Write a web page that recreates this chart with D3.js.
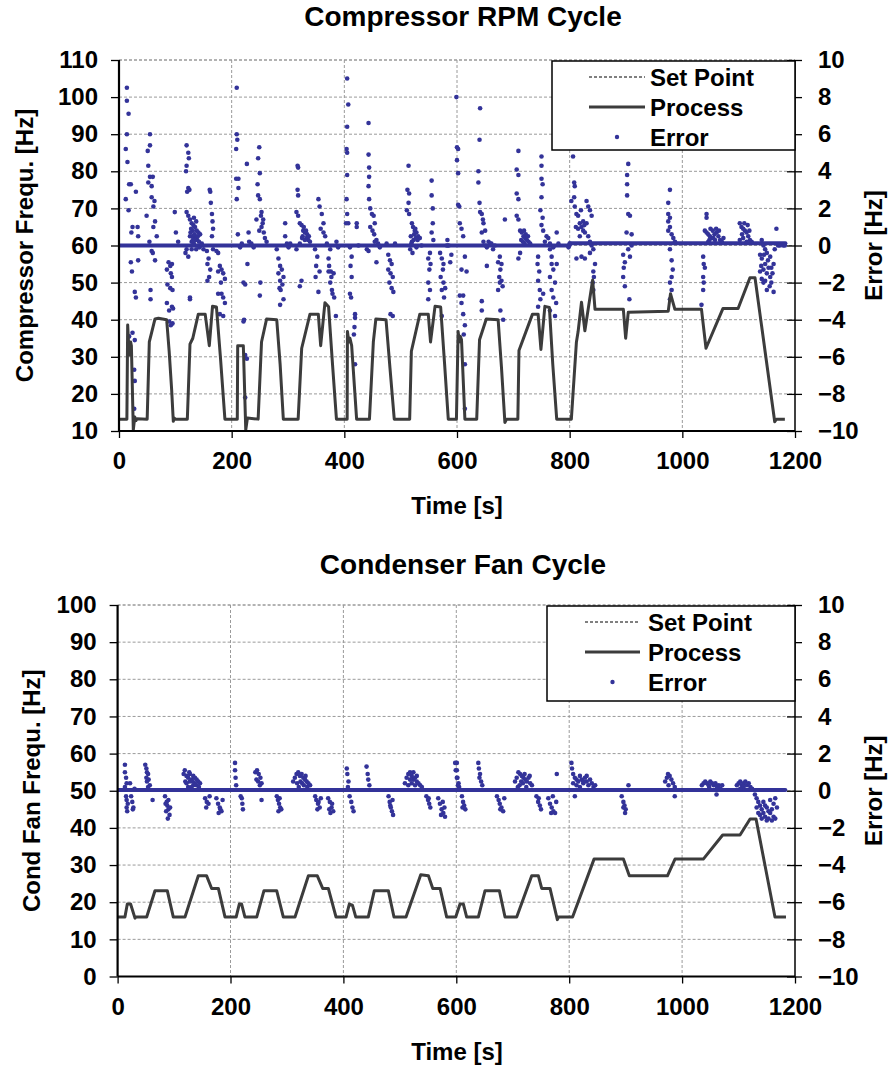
<!DOCTYPE html>
<html><head><meta charset="utf-8">
<script src="https://cdn.jsdelivr.net/npm/d3@7"></script>
<style>
html,body{margin:0;padding:0;background:#fff;}
svg text{font-family:"Liberation Sans",Arial,Helvetica,sans-serif;font-weight:bold;fill:#000;}
</style></head>
<body>
<svg id="chart" width="890" height="1067"></svg>
<script>
// ---------------- DATA ----------------
const xTicks = [0,200,400,600,800,1000,1200];
const compYTicks = [10,20,30,40,50,60,70,80,90,100,110];
const fanYTicks = [0,10,20,30,40,50,60,70,80,90,100];
const errTicks = [-10,-8,-6,-4,-2,0,2,4,6,8,10];
const legendLabels = ["Set Point","Process","Error"];

// Compressor process [time s, Hz]
const compProcess = [[0,13.2],[14,13.2],[15.4,38.6],[18,30.5],[20.7,34],[22,33],[25.4,10.3],[28,13.8],[30,12.8],[32,13.3],[50,13.2],[53.8,34],[58,36.6],[63.9,40.2],[70,40.4],[84.6,40],[89,31.6],[93.5,21],[96.4,12.6],[98,13.5],[100,13.2],[121.3,13.2],[126,33.4],[131,35],[140.8,41.5],[153,41.5],[160.3,33],[166,43.6],[173,43.4],[180,30],[188,13.2],[210,13.2],[210.7,33],[220.7,33],[225,10.3],[228,13.5],[247,13.2],[253,34],[262,40.2],[280,40],[286,28],[291.7,13.2],[318,13.2],[324.3,32.3],[339,41.5],[353.8,41.5],[358,33],[365.6,44.6],[372,43.5],[379,28],[386,13.2],[405,13.2],[405.5,36.8],[408,34],[410,35],[413,33],[421.8,13.2],[444.6,13.2],[451.5,34],[456,40.2],[474,40],[481,27],[488.6,13.2],[516,13.2],[519,31.5],[534,41.5],[549,41.5],[553,34],[561,43.6],[571,43.4],[578,28],[584.5,13.2],[599,13.2],[602,36.8],[604,34],[606,35.5],[608,34.6],[614,13.2],[635,13.2],[640,34.6],[652,40.2],[673,40],[679,27],[685,12.3],[688,13.2],[708,13.2],[710,31.7],[734,41.5],[744,41.5],[749,32],[756,43.6],[764,43.3],[770,28],[777,13.2],[803,13.2],[812,34],[815,36.8],[821,44.7],[827,37],[834,44],[840.8,50.7],[845,42.8],[895.3,42.8],[899.4,35],[904,42],[975,42.3],[979,47],[986.8,42.8],[1034,42.8],[1042,32.3],[1072,43],[1099,43],[1120,51.3],[1129,51.3],[1164,12.5],[1167,13.2],[1182,13.2]];
const compSetPoint = compProcess;

// Compressor error points [time s, error Hz]
const compError = [
[14,8.5],[14,7.8],[17,7.1],[14,6.0],[12,5.2],[15,4.5],[21,3.3],[18,3.3],[12,2.5],[17,1.9],[22,0.7],[24,1.0],[21,-0.9],[23,-1.4],[28,-2.5],[30,-2.8],[18,-4.9],[24,-4.7],[28,-5.1],[27,-6.7],[28,-7.3],[27,-8.8],[30,2.9],[33,1.0],[34,0.5],[34,-0.8],
[55,6.0],[55,5.4],[51,5.1],[52,4.3],[52,3.4],[55,3.7],[60,3.7],[58,3.2],[58,2.6],[61,2.1],[49,1.6],[63,2.4],[64,1.3],[61,1.0],[67,0.5],[54,0.2],[58,-0.3],[64,-0.8],[60,-0.4],[56,-2.4],[56,-2.9],
[88,-0.9],[91,-1.1],[94,-1.0],[85,-1.3],[92,-1.5],[94,-1.7],[86,-2.1],[91,-2.3],[95,-2.4],[85,-3.1],[94,-3.3],[89,-3.5],[96,-3.4],[92,-4.3],[89,-4.1],[95,-4.2],[99,1.8],[101,0.7],[105,0.2],
[120,5.4],[123,5.0],[124,4.7],[120,4.3],[119,4.0],[123,3.1],[125,3.0],[121,2.9],[120,1.8],[123,1.6],[126,1.4],[129,1.2],[132,1.1],[135,1.0],[138,0.8],[131,0.8],[141,0.7],[144,0.6],[126,0.5],[135,0.4],[139,0.3],[129,0.2],[147,0.1],[133,0.1],[143,-0.1],[120,-0.2],[129,-0.2],[137,-0.2],[150,-0.2],[126,-2.8],[126,-2.9],[118,-0.4],[123,-0.6],[128,0.9],[130,0.5],[134,0.6],[136,0.3],[140,0.5],[142,0.2],[137,1.3],[133,1.5],[131,0.3],[127,0.7],
[162,2.9],[163,2.3],[165,1.7],[166,1.3],[167,0.9],[165,0.5],[161,3.0],[156,-0.3],[159,-0.7],[157,-1.0],[162,-1.3],[160,-1.7],[157,-1.9],[167,-0.2],[173,-0.3],[176,-0.4],[179,-1.1],[182,-1.3],[185,-1.5],[188,-1.8],[176,-1.4],[181,-2.0],[176,-2.6],[182,-2.6],[185,-2.8],[179,-3.7],[185,-3.8],[188,-3.1],
[209,8.5],[209,6.0],[210,5.7],[208,5.2],[212,3.6],[212,3.1],[209,2.5],[208,3.6],[211,0.6],[215,-0.1],[218,0.1],[221,-2.0],[224,-2.1],[222,-4.0],[221,-4.1],[224,-5.9],[227,-6.1],[224,-8.2],[228,-1.0],[227,4.4],
[249,5.3],[247,4.7],[250,3.9],[246,3.3],[247,2.7],[250,2.5],[253,1.8],[256,1.4],[253,1.0],[249,0.8],[257,0.7],[259,0.4],[262,0.2],[255,1.2],[244,1.4],[252,1.6],[230,0.7],[231,0.2],[235,0.1],[239,-0.1],[251,-2.0],[250,-2.7],
[280,-0.2],[283,-0.7],[286,-1.1],[289,-1.3],[283,-1.5],[292,-1.7],[286,-1.9],[290,-2.1],[285,-2.3],[287,-2.4],[292,-2.9],[286,-3.2],[295,0.5],[295,1.2],[298,0.1],[301,-0.1],[304,0.1],
[318,4.2],[317,4.3],[317,3.0],[318,2.7],[315,1.8],[318,1.6],[321,1.2],[324,1.1],[327,0.8],[330,0.7],[326,0.5],[333,0.4],[336,0.3],[339,0.2],[321,0.1],[332,0.8],[324,-1.9],[321,-2.2],[315,-0.2],[328,1.0],[330,0.3],[334,0.6],[325,0.4],[337,0.5],
[354,2.5],[356,2.1],[360,1.7],[363,1.2],[358,0.9],[363,0.7],[366,0.5],[352,-0.6],[350,-1.1],[356,-1.4],[349,-1.7],[354,-2.5],[375,-0.2],[372,-0.7],[373,-1.1],[376,-1.4],[377,-1.7],[381,-1.5],[375,-2.0],[378,-2.4],[379,-2.6],[382,-2.8],[386,0.2],[389,-0.1],[385,-3.8],[372,-1.4],[369,0.1],[348,-0.2],
[405,9.0],[407,7.6],[405,6.4],[404,5.2],[405,5.0],[405,3.8],[404,2.5],[405,1.7],[407,1.2],[422,1.2],[403,1.2],[410,-0.1],[413,-0.6],[411,-1.1],[413,-1.7],[410,-2.6],[412,-2.8],[419,-3.7],[419,-3.9],[418,-4.4],[417,-4.8],[419,-6.4],[422,1.0],[425,0.0],
[443,6.6],[443,4.9],[444,4.2],[444,3.7],[443,3.2],[444,2.5],[446,2.0],[449,1.7],[452,1.6],[454,1.2],[450,0.8],[453,0.6],[457,0.3],[446,1.0],[440,-0.2],[443,-0.3],[454,0.2],[457,-0.9],[460,0.1],[463,-0.1],
[475,0.1],[478,-0.5],[481,-0.8],[484,-1.0],[478,-1.3],[482,-1.5],[486,-1.7],[480,-2.0],[484,-2.3],[487,-2.5],[482,-3.7],[486,-3.8],[490,0.1],
[514,4.3],[512,3.0],[515,2.8],[514,2.3],[511,1.9],[515,1.7],[520,1.2],[522,1.0],[525,0.8],[528,0.7],[524,0.6],[531,0.5],[534,0.4],[520,0.2],[517,-0.2],[521,-0.4],[528,-0.1],[537,0.0],[519,0.1],[523,0.3],[526,0.9],[530,0.3],[518,0.5],[527,0.4],
[555,3.5],[555,2.7],[557,2.0],[557,1.2],[555,0.7],[558,0.3],[552,-0.4],[549,-0.7],[553,-1.0],[551,-1.3],[549,-2.0],[552,-2.4],[549,-2.9],[570,-0.4],[573,-0.7],[576,-1.0],[575,-1.3],[571,-1.7],[576,-2.0],[579,-2.3],[573,-2.4],[577,-2.8],[573,-3.8],[582,0.0],[583,0.3],[585,0.0],
[599,8.0],[600,5.3],[602,5.2],[600,4.6],[602,3.9],[602,2.2],[604,2.1],[605,1.2],[608,0.9],[611,0.5],[611,-2.7],[605,-2.7],[608,-3.1],[611,-3.7],[614,-4.3],[612,-4.8],[614,-6.4],[614,-8.8],[608,-1.3],[614,-0.6],[590,-0.5],[588,-0.9],[617,-1.4],
[641,7.4],[640,5.7],[638,4.0],[638,3.4],[640,2.3],[641,1.8],[644,1.7],[646,1.4],[647,1.2],[650,0.8],[644,0.7],[647,0.2],[651,0.0],[656,0.2],[659,0.1],[653,-0.1],[664,-0.2],[667,0.0],[661,0.1],[644,-3.0],[644,-3.5],
[653,-1.1],[676,-0.6],[679,-1.0],[673,-0.9],[677,-1.3],[675,-1.7],[679,-1.9],[676,-2.0],[681,-2.2],[673,-2.4],[677,-3.5],[682,-4.0],[685,1.4],
[709,5.1],[706,4.1],[709,3.8],[706,2.8],[709,2.5],[706,1.6],[709,1.4],[712,0.8],[715,0.7],[718,0.5],[721,0.4],[724,0.3],[727,0.2],[730,0.1],[717,0.2],[722,0.6],[712,-0.4],[709,-0.7],[714,0.3],[719,0.8],[726,0.5],[720,0.1],
[750,4.8],[750,4.3],[750,3.6],[752,3.3],[750,2.6],[748,1.9],[752,1.5],[750,1.1],[753,0.8],[759,0.5],[756,0.2],[762,0.4],[765,0.1],[771,-0.1],[777,0.7],[780,0.1],
[744,-0.6],[743,-1.0],[746,-1.4],[744,-1.9],[747,-2.4],[748,-2.9],[744,-3.3],[753,-2.6],
[765,-0.2],[768,-1.0],[771,-1.3],[765,-1.7],[774,-2.0],[768,-2.4],[771,-2.8],[776,-3.1],[765,-3.5],[774,-3.8],[768,-0.6],[777,-1.0],
[798,-0.1],[800,0.1],[806,4.8],[808,3.4],[809,3.2],[808,2.6],[803,2.4],[809,2.1],[812,1.7],[815,1.6],[818,1.2],[821,1.0],[824,0.8],[827,0.7],[830,2.4],[833,2.1],[836,1.9],[839,1.6],[830,1.2],[833,0.5],[836,0.2],[839,0.0],[812,-0.7],[821,-0.6],[827,-0.7],[836,-0.4],[842,-0.2],[845,-1.0],[842,-1.4],[843,-1.7],[841,-2.0],[842,-2.4],[815,0.9],[818,0.5],[824,1.3],[820,1.9],[826,1.1],[811,1.0],
[904,4.4],[902,3.8],[902,3.3],[902,2.7],[904,1.7],[907,1.6],[901,0.7],[910,0.6],[904,-0.2],[895,-0.5],[898,-0.9],[896,-1.2],[895,-1.7],[898,-2.2],[906,-2.9],[907,-0.6],[910,0.0],
[978,3.0],[975,2.3],[975,1.7],[978,1.5],[975,1.3],[978,1.0],[975,0.8],[981,0.6],[984,0.4],[987,0.2],[978,-0.2],[981,-0.8],[983,-1.3],[981,-1.7],[978,-2.0],[981,-2.4],[978,-2.9],
[1043,1.7],[1043,1.5],[1040,0.8],[1043,0.7],[1046,0.6],[1049,0.5],[1052,0.4],[1055,0.4],[1058,0.3],[1061,0.7],[1064,0.5],[1067,0.3],[1070,0.2],[1073,0.4],[1046,0.2],[1037,-0.6],[1038,-1.0],[1040,-1.2],[1037,-1.7],[1038,-2.0],[1037,-2.4],[1034,-3.2],[1050,0.9],[1054,0.8],[1060,0.9],[1065,0.8],[1048,0.3],[1057,0.6],
[1102,1.2],[1105,1.0],[1108,0.9],[1111,0.8],[1114,0.7],[1117,0.5],[1108,0.4],[1102,0.3],[1114,0.2],[1120,0.3],[1123,0.2],[1110,1.2],[1116,1.1],[1106,0.6],[1119,0.8],
[1141,0.3],[1144,0.0],[1147,-0.2],[1150,-0.4],[1156,-0.6],[1141,-0.7],[1147,-1.0],[1153,-1.2],[1158,-1.2],[1144,-1.3],[1138,-1.4],[1150,-1.5],[1156,-1.7],[1141,-1.8],[1147,-1.9],[1158,-2.0],[1144,-2.0],[1150,-2.4],[1162,-2.5],[1138,-0.5],[1164,-0.2],[1167,0.9],[1170,0.0],[1173,0.0],[1179,0.0],[1182,0.0],[1152,-0.8],[1160,-1.5],[1145,-0.5],[1155,-2.2],[1140,-1.1],[1162,-1.0]
];
// Runs of overlapping error dots along zero [t start, t end, error]
const compZeroRuns = [[0,800,0],[800,1183,0.12]];

// Condenser fan process [time s, Hz]
const fanProcess = [[0,16],[13,16],[17.2,19.5],[23,19.5],[30.8,15.7],[32,16],[51.5,16],[66.2,23.1],[88,23.1],[98.7,16],[119.4,16],[143,27.1],[157.7,27.1],[166.6,23.7],[178.5,23.7],[190.3,16],[210,16],[215.6,19.5],[219.7,19.5],[225.6,16],[246.4,16],[259.3,23.1],[281.8,23.1],[293.6,16],[314.3,16],[338,27.1],[353.8,27.1],[363.3,23.7],[373.3,23.7],[387,16],[404.6,16],[410.5,19.5],[416,19.2],[422,16],[444,16],[454.8,23.1],[479.6,23.1],[489.6,16],[510.9,16],[537,27.4],[550.6,27.1],[558.3,23.7],[571.3,23.7],[583,16],[599,16],[606.6,19.5],[612.5,19.5],[618.4,16],[639,16],[650.9,23.1],[676.3,23.1],[686.3,16],[707,16],[733.6,27.1],[745.4,27.1],[751.3,23.7],[766,23.7],[779,15.3],[781,16],[806,16],[844,31.6],[896,31.6],[906.5,27.1],[974,27.1],[987.4,31.6],[1037.6,31.6],[1071.9,38.1],[1102.6,38.1],[1120.4,42.4],[1131,42.4],[1164.5,16],[1184,16]];
const fanSetPoint = fanProcess;

// Condenser fan error points [time s, error Hz]
const fanError = [
[13,1.4],[13,1.0],[15,0.7],[16,0.4],[13,0.2],[15,-0.3],[16,-0.5],[18,-0.7],[17,-1.1],[16,-0.9],[22,0.4],[24,-0.3],[26,-0.6],[28,-0.9],[27,-1.0],[30,0.1],
[49,1.4],[51,1.2],[52,1.0],[54,0.9],[51,0.7],[55,0.6],[52,0.5],[57,0.3],[54,0.2],[62,-0.5],
[84,-0.3],[87,-0.6],[88,-0.8],[90,-1.0],[86,-1.1],[92,-1.3],[89,-1.5],[93,-0.9],[90,-0.5],[85,-0.7],
[117,0.9],[119,1.1],[122,0.8],[125,0.7],[128,0.9],[131,0.6],[134,0.8],[137,0.7],[140,0.6],[143,0.5],[146,0.4],[122,0.4],[128,0.5],[134,0.3],[140,0.3],[125,0.2],[131,0.2],[137,0.4],[120,0.5],[144,0.2],[127,1.0],[133,0.5],
[155,-0.4],[158,-0.6],[161,-0.7],[157,-0.9],[163,-0.3],
[175,-0.4],[178,-0.7],[181,-0.9],[184,-1.1],[179,-1.2],[182,-1.0],[186,-0.5],
[208,1.5],[208,1.1],[209,0.7],[210,0.3],[220,-0.4],[221,-0.7],[222,-1.0],[218,-0.3],
[244,1.0],[247,1.1],[250,0.9],[253,0.7],[249,0.5],[255,0.4],[252,0.3],[255,-0.5],[246,0.6],
[282,-0.3],[284,-0.5],[286,-0.7],[288,-0.9],[285,-1.1],[290,-1.0],[287,-0.4],
[311,0.5],[314,0.7],[317,0.9],[320,1.0],[323,0.8],[326,0.9],[329,0.7],[332,0.6],[335,0.5],[338,0.4],[341,0.3],[318,0.4],[324,0.5],[330,0.3],[336,0.2],[321,0.2],[327,0.4],[333,0.8],
[350,-0.3],[352,-0.5],[355,-0.7],[358,-0.9],[354,-1.0],[360,-0.4],[356,-0.6],
[373,-0.4],[376,-0.6],[379,-0.9],[382,-1.1],[377,-1.2],[380,-0.7],[375,-1.0],
[406,1.2],[407,0.9],[409,0.5],[408,0.2],[411,-0.3],[414,-0.6],[416,-0.9],[418,-1.1],
[441,1.3],[443,0.9],[444,0.6],[446,0.3],
[480,-0.3],[482,-0.6],[484,-0.9],[486,-1.1],[488,-1.3],[483,-0.8],[487,-0.5],
[509,0.4],[512,0.7],[515,0.9],[518,1.0],[521,0.8],[524,0.6],[527,0.7],[530,0.5],[533,0.4],[536,0.3],[539,0.2],[515,0.3],[521,0.4],[527,0.3],[518,0.6],[530,0.8],[524,1.0],
[547,-0.3],[550,-0.5],[552,-0.7],[554,-0.9],[551,-0.4],
[568,-0.4],[571,-0.7],[574,-1.0],[577,-1.2],[580,-1.4],[573,-1.3],[576,-0.6],[579,-0.9],
[601,1.5],[601,1.1],[602,0.7],[604,0.4],[605,0.2],
[598,1.5],[599,1.1],[601,0.7],[603,0.3],[610,-0.3],[612,-0.6],[614,-0.8],[616,-1.0],[611,-0.9],
[639,1.5],[640,1.2],[642,0.9],[644,0.5],[646,0.3],[641,0.7],
[672,-0.3],[675,-0.5],[677,-0.7],[680,-0.9],[683,-1.1],[678,-1.0],[685,-0.4],
[704,0.5],[707,0.7],[710,1.0],[713,0.9],[716,0.8],[719,0.7],[722,0.6],[725,0.5],[728,0.7],[731,0.4],[734,0.3],[712,0.3],[718,0.4],[724,0.2],[715,0.5],[721,0.9],[730,0.8],[709,0.2],
[742,-0.3],[745,-0.6],[748,-0.8],[750,-1.0],[746,-0.4],
[763,-0.4],[766,-0.7],[769,-0.9],[772,-1.1],[775,-1.2],[768,-1.2],[777,-0.6],[778,0.9],[771,-0.3],
[804,1.5],[805,1.2],[807,0.9],[810,0.7],[810,-0.3],[813,0.6],[816,0.5],[819,0.8],[822,0.6],[825,0.4],[828,0.7],[831,0.5],[834,0.3],[837,0.6],[840,0.4],[843,0.2],[846,0.3],[813,0.3],[819,0.2],[825,0.5],[831,0.8],[807,0.4],
[893,-0.3],[896,-0.6],[898,-0.8],[900,-1.0],[899,-1.2],[896,-0.9],[905,0.3],
[970,0.5],[973,0.7],[975,0.9],[978,0.8],[981,0.6],[984,0.4],[987,0.2],[987,-0.3],[976,0.3],
[1035,0.3],[1038,0.4],[1041,0.5],[1044,0.4],[1047,0.3],[1050,0.5],[1053,0.4],[1056,0.3],[1059,0.4],[1062,0.2],[1065,0.3],[1068,0.1],[1071,0.3],[1061,-0.2],[1048,0.2],
[1097,0.3],[1100,0.4],[1103,0.5],[1106,0.3],[1109,0.4],[1112,0.5],[1115,0.3],[1118,0.4],[1121,0.2],[1124,0.1],[1109,0.2],[1103,0.1],
[1129,-0.2],[1132,-0.4],[1135,-0.6],[1138,-0.8],[1141,-1.0],[1144,-1.2],[1147,-1.4],[1150,-1.6],[1153,-1.5],[1156,-1.2],[1159,-1.0],[1162,-0.7],[1165,-0.4],[1132,-0.9],[1138,-1.3],[1144,-0.6],[1150,-0.9],[1156,-0.5],[1162,-1.4],[1141,-1.5],[1147,-0.8],[1153,-1.1],[1159,-1.6],[1135,-1.2],[1165,-1.5],[1168,-0.9]
];
const fanZeroRuns = [[0,1183,0.04]];

// ---------------- DRAW ----------------
const svg = d3.select("#chart");
const DOT = "#333399", LINE = "#3c3c3c", GRID = "#9a9a9a";

function panel(o){
  const g = svg.append("g");
  const x = d3.scaleLinear().domain([0,1200]).range([o.left,o.right]);
  const y = d3.scaleLinear().domain(o.yDomain).range([o.bottom,o.top]);
  const yr = d3.scaleLinear().domain([-10,10]).range([o.bottom,o.top]);

  // grid
  g.append("g").selectAll("line").data(o.yTicks.slice(1)).join("line")
    .attr("x1",o.left).attr("x2",o.right).attr("y1",d=>y(d)).attr("y2",d=>y(d))
    .attr("stroke",(d,i,a)=> i===a.length-1 ? "#666" : GRID).attr("stroke-width",1).attr("stroke-dasharray","3,2");
  g.append("g").selectAll("line").data(xTicks.slice(1,-1)).join("line")
    .attr("x1",d=>x(d)).attr("x2",d=>x(d)).attr("y1",o.top).attr("y2",o.bottom)
    .attr("stroke",GRID).attr("stroke-width",1).attr("stroke-dasharray","3,2");

  const clip = "clip"+o.id;
  svg.append("clipPath").attr("id",clip).append("rect")
    .attr("x",o.left).attr("y",o.top).attr("width",o.right-o.left).attr("height",o.bottom-o.top);
  const plot = g.append("g").attr("clip-path",`url(#${clip})`);
  plot.selectAll("line.zr").data(o.zeroRuns).join("line").attr("class","zr")
    .attr("x1",d=>x(d[0])).attr("x2",d=>x(d[1])).attr("y1",d=>yr(d[2])).attr("y2",d=>yr(d[2]))
    .attr("stroke",DOT).attr("stroke-width",4).attr("stroke-linecap","round");
  plot.selectAll("circle").data(o.error).join("circle")
    .attr("cx",d=>x(d[0])).attr("cy",d=>yr(d[1])).attr("r",2.3).attr("fill",DOT);

  const line = d3.line().x(d=>x(d[0])).y(d=>y(d[1]));
  plot.append("path").datum(o.setPoint).attr("d",line).attr("fill","none")
    .attr("stroke","#000").attr("stroke-width",1).attr("stroke-dasharray","3,2");
  plot.append("path").datum(o.process).attr("d",line).attr("fill","none")
    .attr("stroke",LINE).attr("stroke-width",3).attr("stroke-linejoin","round");

  // axes
  const fs = "24px";
  const ax = g.append("g").attr("transform",`translate(0,${o.bottom})`)
    .call(d3.axisBottom(x).tickValues(xTicks).tickSize(7).tickPadding(14).tickFormat(d3.format("d")));
  const ay = g.append("g").attr("transform",`translate(${o.left},0)`)
    .call(d3.axisLeft(y).tickValues(o.yTicks).tickSize(8).tickPadding(13).tickFormat(d3.format("d")));
  const ar = g.append("g").attr("transform",`translate(${o.right},0)`)
    .call(d3.axisRight(yr).tickValues(errTicks).tickSize(7).tickPadding(16).tickFormat(d3.format("d")));
  ar.selectAll(".tick line").attr("x1",-8);
  [ax,ay,ar].forEach(a=>{
    a.selectAll(".domain").attr("stroke","#000").attr("stroke-width",a===ar?1.5:2.2);
    a.selectAll(".tick line").attr("stroke","#000").attr("stroke-width",1.3);
    a.selectAll(".tick text").attr("font-size",fs).attr("font-weight","bold")
      .attr("font-family","'Liberation Sans',Arial,sans-serif").attr("fill","#000");
  });
  ay.select(".domain").attr("d",`M0,${o.top}V${o.bottom}`);
  ar.select(".domain").attr("d",`M0,${o.top}V${o.bottom}`);
  ax.select(".domain").attr("d",`M${o.left},0H${o.right}`);

  // titles
  svg.append("text").attr("x",463).attr("y",o.titleY).attr("text-anchor","middle")
    .attr("font-size","28px").text(o.title);
  svg.append("text").attr("x",457).attr("y",o.bottom+83).attr("text-anchor","middle")
    .attr("font-size","24px").text("Time [s]");
  svg.append("text").attr("transform",`translate(${o.yTitleX},${(o.top+o.bottom)/2}) rotate(-90)`)
    .attr("text-anchor","middle").attr("font-size","24px").text(o.yTitle);
  svg.append("text").attr("transform",`translate(882,${(o.top+o.bottom)/2}) rotate(-90)`)
    .attr("text-anchor","middle").attr("font-size","24px").text("Error [Hz]");

  // legend
  const L = o.legend;
  const lg = svg.append("g");
  lg.append("rect").attr("x",L.x).attr("y",L.y).attr("width",o.right-L.x).attr("height",L.h)
    .attr("fill","#fff").attr("stroke","#000").attr("stroke-width",1.5);
  const rows = [L.y+16, L.y+46, L.y+76];
  lg.append("line").attr("x1",L.lx1).attr("x2",L.lx2).attr("y1",rows[0]).attr("y2",rows[0])
    .attr("stroke","#000").attr("stroke-width",1).attr("stroke-dasharray","3,2");
  lg.append("line").attr("x1",L.lx1).attr("x2",L.lx2).attr("y1",rows[1]).attr("y2",rows[1])
    .attr("stroke",LINE).attr("stroke-width",3);
  lg.append("circle").attr("cx",(L.lx1+L.lx2)/2).attr("cy",rows[2]).attr("r",2.2).attr("fill",DOT);
  lg.selectAll("text").data(legendLabels).join("text")
    .attr("x",L.tx).attr("y",(d,i)=>rows[i]+8.5).attr("font-size","24px").text(d=>d);
}

panel({id:"c", left:119, right:795, top:60, bottom:431, yDomain:[10,110], yTicks:compYTicks,
  process:compProcess, setPoint:compSetPoint, error:compError, zeroRuns:compZeroRuns,
  title:"Compressor RPM Cycle", titleY:26, yTitle:"Compressor Frequ. [Hz]", yTitleX:33,
  legend:{x:552,y:61,h:89,lx1:589,lx2:645,tx:650}});
panel({id:"f", left:117.6, right:795, top:605, bottom:976.5, yDomain:[0,100], yTicks:fanYTicks,
  process:fanProcess, setPoint:fanSetPoint, error:fanError, zeroRuns:fanZeroRuns,
  title:"Condenser Fan Cycle", titleY:574, yTitle:"Cond Fan Frequ. [Hz]", yTitleX:40,
  legend:{x:547,y:606,h:95,lx1:585,lx2:640,tx:648}});
</script>
</body></html>
